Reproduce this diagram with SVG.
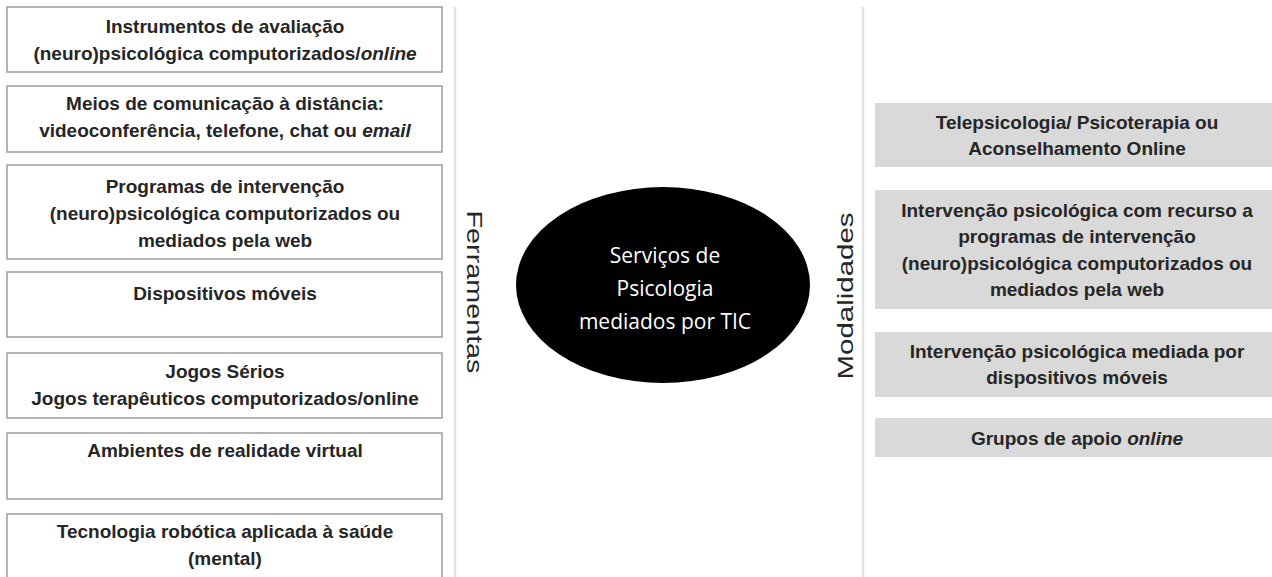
<svg xmlns="http://www.w3.org/2000/svg" width="1272" height="577" viewBox="0 0 1272 577">
<style>
.tool{fill:#ffffff;stroke:#a3a3a3;stroke-width:1.6}
.mod{fill:#d9d9d9;stroke:none}
.t{font-family:"Liberation Sans",Arial,sans-serif;font-weight:bold;font-size:19px;fill:#262626;text-anchor:middle}
.i{font-style:italic}
.side{font-family:"Liberation Sans",Arial,sans-serif;font-size:22px;fill:#262626;text-anchor:middle}
.c{font-family:"Open Sans",sans-serif;font-size:21px;fill:#ffffff;text-anchor:middle}
.sep{stroke:#e3e3e3;stroke-width:2.5;fill:none}
</style>
<rect width="1272" height="577" fill="#ffffff"/>
<g id="separators">
<line class="sep" x1="455" y1="7" x2="455" y2="577"/>
<line class="sep" x1="863" y1="7" x2="863" y2="577"/>
</g>
<g id="tool1"><rect class="tool" x="7" y="7" width="435" height="65"/>
<text class="t" x="225" y="33">Instrumentos de avaliação</text>
<text class="t" x="225" y="60">(neuro)psicológica computorizados/<tspan class="i">online</tspan></text></g>
<g id="tool2"><rect class="tool" x="7" y="86" width="435" height="66"/>
<text class="t" x="225" y="110">Meios de comunicação à distância:</text>
<text class="t" x="225" y="137">videoconferência, telefone, chat ou <tspan class="i">email</tspan></text></g>
<g id="tool3"><rect class="tool" x="7" y="165" width="435" height="94"/>
<text class="t" x="225" y="193">Programas de intervenção</text>
<text class="t" x="225" y="220">(neuro)psicológica computorizados ou</text>
<text class="t" x="225" y="247">mediados pela web</text></g>
<g id="tool4"><rect class="tool" x="7" y="272" width="435" height="65"/>
<text class="t" x="225" y="300">Dispositivos móveis</text></g>
<g id="tool5"><rect class="tool" x="7" y="353" width="435" height="65"/>
<text class="t" x="225" y="378">Jogos Sérios</text>
<text class="t" x="225" y="405">Jogos terapêuticos computorizados/online</text></g>
<g id="tool6"><rect class="tool" x="7" y="433" width="435" height="66"/>
<text class="t" x="225" y="457">Ambientes de realidade virtual</text></g>
<g id="tool7"><rect class="tool" x="7" y="514" width="435" height="80"/>
<text class="t" x="225" y="538">Tecnologia robótica aplicada à saúde</text>
<text class="t" x="225" y="565">(mental)</text></g>
<g id="label-ferramentas"><text class="side" transform="translate(467,292) rotate(90)" textLength="163" lengthAdjust="spacingAndGlyphs">Ferramentas</text></g>
<g id="center"><ellipse cx="663" cy="285" rx="147" ry="98" fill="#000000"/>
<text class="c" x="665" y="263">Serviços de</text>
<text class="c" x="665" y="296">Psicologia</text>
<text class="c" x="665" y="329">mediados por TIC</text></g>
<g id="label-modalidades"><text class="side" transform="translate(853,296) rotate(-90)" textLength="167" lengthAdjust="spacingAndGlyphs">Modalidades</text></g>
<g id="mod1"><rect class="mod" x="875" y="103" width="403" height="64"/>
<text class="t" x="1077" y="129">Telepsicologia/ Psicoterapia ou</text>
<text class="t" x="1077" y="155">Aconselhamento Online</text></g>
<g id="mod2"><rect class="mod" x="875" y="190" width="403" height="119"/>
<text class="t" x="1077" y="217">Intervenção psicológica com recurso a</text>
<text class="t" x="1077" y="243">programas de intervenção</text>
<text class="t" x="1077" y="270">(neuro)psicológica computorizados ou</text>
<text class="t" x="1077" y="296">mediados pela web</text></g>
<g id="mod3"><rect class="mod" x="875" y="332" width="403" height="65"/>
<text class="t" x="1077" y="358">Intervenção psicológica mediada por</text>
<text class="t" x="1077" y="384">dispositivos móveis</text></g>
<g id="mod4"><rect class="mod" x="875" y="418" width="403" height="39"/>
<text class="t" x="1077" y="445">Grupos de apoio <tspan class="i">online</tspan></text></g>
<g id="connectors"/>
</svg>
